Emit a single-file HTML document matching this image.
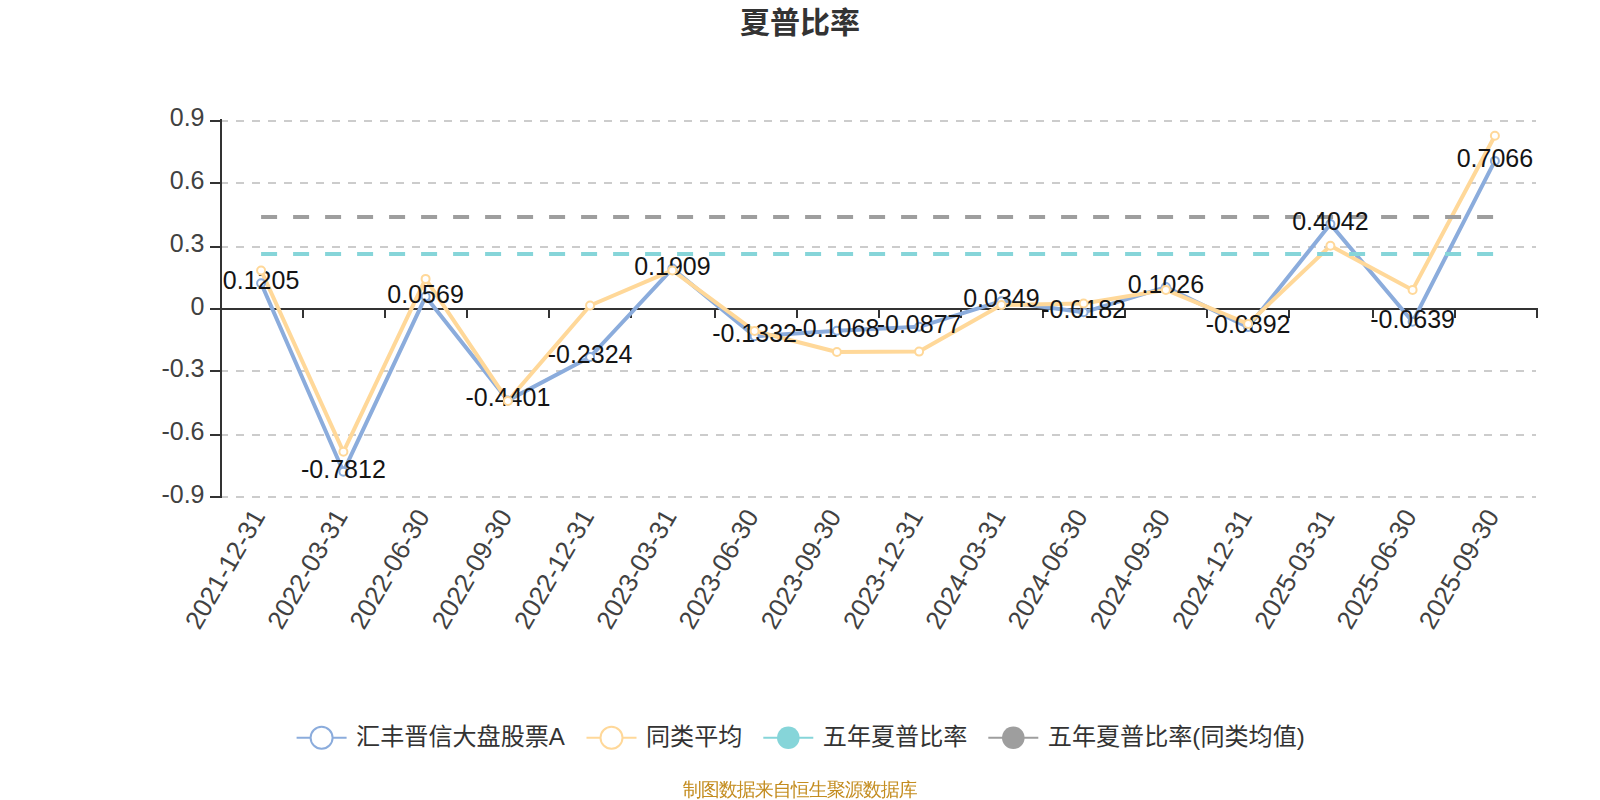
<!DOCTYPE html>
<html lang="zh-CN"><head><meta charset="utf-8"><title>夏普比率</title>
<style>html,body{margin:0;padding:0;background:#fff;}body{width:1600px;height:800px;overflow:hidden;}svg{display:block;}
.num{font-family:"Liberation Sans",sans-serif;}
.cjk{font-family:"Liberation Sans","Noto Sans CJK SC",sans-serif;}
.foot{font-family:"Liberation Sans","WenQuanYi Zen Hei",sans-serif;}</style></head><body>
<svg width="1600" height="800" viewBox="0 0 1600 800">
<rect width="1600" height="800" fill="#fff"/>
<text x="800" y="33" text-anchor="middle" class="cjk" font-size="30" font-weight="bold" fill="#333">夏普比率</text>
<g stroke="#ccc" stroke-width="2" stroke-dasharray="8 8">
<line x1="220.0" y1="121" x2="1536.0" y2="121"/>
<line x1="220.0" y1="183" x2="1536.0" y2="183"/>
<line x1="220.0" y1="247" x2="1536.0" y2="247"/>
<line x1="220.0" y1="371" x2="1536.0" y2="371"/>
<line x1="220.0" y1="435" x2="1536.0" y2="435"/>
<line x1="220.0" y1="497" x2="1536.0" y2="497"/>
</g>
<g stroke="#333" stroke-width="2">
<line x1="221" y1="119" x2="221" y2="498"/>
<line x1="210" y1="121" x2="220" y2="121"/>
<line x1="210" y1="183" x2="220" y2="183"/>
<line x1="210" y1="247" x2="220" y2="247"/>
<line x1="210" y1="309" x2="220" y2="309"/>
<line x1="210" y1="371" x2="220" y2="371"/>
<line x1="210" y1="435" x2="220" y2="435"/>
<line x1="210" y1="497" x2="220" y2="497"/>
<line x1="220" y1="309" x2="1538" y2="309"/>
<line x1="303" y1="308" x2="303" y2="318"/>
<line x1="385" y1="308" x2="385" y2="318"/>
<line x1="467" y1="308" x2="467" y2="318"/>
<line x1="549" y1="308" x2="549" y2="318"/>
<line x1="631" y1="308" x2="631" y2="318"/>
<line x1="715" y1="308" x2="715" y2="318"/>
<line x1="797" y1="308" x2="797" y2="318"/>
<line x1="879" y1="308" x2="879" y2="318"/>
<line x1="961" y1="308" x2="961" y2="318"/>
<line x1="1043" y1="308" x2="1043" y2="318"/>
<line x1="1125" y1="308" x2="1125" y2="318"/>
<line x1="1207" y1="308" x2="1207" y2="318"/>
<line x1="1289" y1="308" x2="1289" y2="318"/>
<line x1="1373" y1="308" x2="1373" y2="318"/>
<line x1="1455" y1="308" x2="1455" y2="318"/>
<line x1="1537" y1="308" x2="1537" y2="318"/>
</g>
<g class="num" font-size="25" fill="#414141" text-anchor="end">
<text x="204.5" y="125.8">0.9</text>
<text x="204.5" y="189.2">0.6</text>
<text x="204.5" y="251.9">0.3</text>
<text x="204.5" y="314.75">0</text>
<text x="204.5" y="377.4">-0.3</text>
<text x="204.5" y="440.1">-0.6</text>
<text x="204.5" y="502.8">-0.9</text>
</g>
<g class="num" font-size="26" fill="#414141" text-anchor="end">
<text transform="translate(258.0 511.2) rotate(-60)" x="0" y="9.3">2021-12-31</text>
<text transform="translate(340.3 511.2) rotate(-60)" x="0" y="9.3">2022-03-31</text>
<text transform="translate(422.5 511.2) rotate(-60)" x="0" y="9.3">2022-06-30</text>
<text transform="translate(504.8 511.2) rotate(-60)" x="0" y="9.3">2022-09-30</text>
<text transform="translate(587.0 511.2) rotate(-60)" x="0" y="9.3">2022-12-31</text>
<text transform="translate(669.3 511.2) rotate(-60)" x="0" y="9.3">2023-03-31</text>
<text transform="translate(751.5 511.2) rotate(-60)" x="0" y="9.3">2023-06-30</text>
<text transform="translate(833.8 511.2) rotate(-60)" x="0" y="9.3">2023-09-30</text>
<text transform="translate(916.0 511.2) rotate(-60)" x="0" y="9.3">2023-12-31</text>
<text transform="translate(998.3 511.2) rotate(-60)" x="0" y="9.3">2024-03-31</text>
<text transform="translate(1080.5 511.2) rotate(-60)" x="0" y="9.3">2024-06-30</text>
<text transform="translate(1162.8 511.2) rotate(-60)" x="0" y="9.3">2024-09-30</text>
<text transform="translate(1245.0 511.2) rotate(-60)" x="0" y="9.3">2024-12-31</text>
<text transform="translate(1327.3 511.2) rotate(-60)" x="0" y="9.3">2025-03-31</text>
<text transform="translate(1409.5 511.2) rotate(-60)" x="0" y="9.3">2025-06-30</text>
<text transform="translate(1491.8 511.2) rotate(-60)" x="0" y="9.3">2025-09-30</text>
</g>
<polyline points="261.1,283.3 343.4,471.7 425.6,296.6 507.9,400.4 590.1,357.0 672.4,268.6 754.6,336.3 836.9,330.8 919.1,326.8 1001.4,301.2 1083.6,312.3 1165.9,287.1 1248.1,327.1 1330.4,224.1 1412.6,321.8 1494.9,160.9" fill="none" stroke="#8bacdc" stroke-width="4" stroke-linejoin="bevel"/>
<polyline points="261.1,270.5 343.4,451.8 425.6,278.9 507.9,400.9 590.1,305.5 672.4,270.4 754.6,331.0 836.9,352.0 919.1,351.6 1001.4,305.1 1083.6,303.5 1165.9,289.9 1248.1,323.9 1330.4,245.8 1412.6,289.9 1494.9,135.7" fill="none" stroke="#ffd899" stroke-width="4" stroke-linejoin="bevel"/>
<line x1="261.1" y1="254" x2="1494.9" y2="254" stroke="#86d5d9" stroke-width="4" stroke-dasharray="16 16"/>
<line x1="261.1" y1="217" x2="1494.9" y2="217" stroke="#9e9e9e" stroke-width="4" stroke-dasharray="16 16"/>
<g class="num" font-size="25" text-anchor="middle">
<circle cx="261.1" cy="283.3" r="4" fill="#fff" stroke="#8bacdc" stroke-width="2"/><text x="261.1" y="289.3" fill="#141414">0.1205</text>
<circle cx="343.4" cy="471.7" r="4" fill="#fff" stroke="#8bacdc" stroke-width="2"/><text x="343.4" y="477.6" fill="#141414">-0.7812</text>
<circle cx="425.6" cy="296.6" r="4" fill="#fff" stroke="#8bacdc" stroke-width="2"/><text x="425.6" y="302.6" fill="#141414">0.0569</text>
<circle cx="507.9" cy="400.4" r="4" fill="#fff" stroke="#8bacdc" stroke-width="2"/><text x="507.9" y="406.4" fill="#141414">-0.4401</text>
<circle cx="590.1" cy="357.0" r="4" fill="#fff" stroke="#8bacdc" stroke-width="2"/><text x="590.1" y="363.0" fill="#141414">-0.2324</text>
<circle cx="672.4" cy="268.6" r="4" fill="#fff" stroke="#8bacdc" stroke-width="2"/><text x="672.4" y="274.6" fill="#141414">0.1909</text>
<circle cx="754.6" cy="336.3" r="4" fill="#fff" stroke="#8bacdc" stroke-width="2"/><text x="754.6" y="342.3" fill="#141414">-0.1332</text>
<circle cx="836.9" cy="330.8" r="4" fill="#fff" stroke="#8bacdc" stroke-width="2"/><text x="836.9" y="336.8" fill="#141414">-0.1068</text>
<circle cx="919.1" cy="326.8" r="4" fill="#fff" stroke="#8bacdc" stroke-width="2"/><text x="919.1" y="332.8" fill="#141414">-0.0877</text>
<circle cx="1001.4" cy="301.2" r="4" fill="#fff" stroke="#8bacdc" stroke-width="2"/><text x="1001.4" y="307.2" fill="#141414">0.0349</text>
<circle cx="1083.6" cy="312.3" r="4" fill="#fff" stroke="#8bacdc" stroke-width="2"/><text x="1083.6" y="318.3" fill="#141414">-0.0182</text>
<circle cx="1165.9" cy="287.1" r="4" fill="#fff" stroke="#8bacdc" stroke-width="2"/><text x="1165.9" y="293.0" fill="#141414">0.1026</text>
<circle cx="1248.1" cy="327.1" r="4" fill="#fff" stroke="#8bacdc" stroke-width="2"/><text x="1248.1" y="333.1" fill="#141414">-0.0892</text>
<circle cx="1330.4" cy="224.1" r="4" fill="#fff" stroke="#8bacdc" stroke-width="2"/><text x="1330.4" y="230.0" fill="#141414">0.4042</text>
<circle cx="1412.6" cy="321.8" r="4" fill="#fff" stroke="#8bacdc" stroke-width="2"/><text x="1412.6" y="327.8" fill="#141414">-0.0639</text>
<circle cx="1494.9" cy="160.9" r="4" fill="#fff" stroke="#8bacdc" stroke-width="2"/><text x="1494.9" y="166.8" fill="#141414">0.7066</text>
</g>
<g fill="#fff" stroke="#ffd899" stroke-width="2"><circle cx="261.1" cy="270.5" r="4"/><circle cx="343.4" cy="451.8" r="4"/><circle cx="425.6" cy="278.9" r="4"/><circle cx="507.9" cy="400.9" r="4"/><circle cx="590.1" cy="305.5" r="4"/><circle cx="672.4" cy="270.4" r="4"/><circle cx="754.6" cy="331.0" r="4"/><circle cx="836.9" cy="352.0" r="4"/><circle cx="919.1" cy="351.6" r="4"/><circle cx="1001.4" cy="305.1" r="4"/><circle cx="1083.6" cy="303.5" r="4"/><circle cx="1165.9" cy="289.9" r="4"/><circle cx="1248.1" cy="323.9" r="4"/><circle cx="1330.4" cy="245.8" r="4"/><circle cx="1412.6" cy="289.9" r="4"/><circle cx="1494.9" cy="135.7" r="4"/></g>
<line x1="296.6" y1="737.8" x2="346.6" y2="737.8" stroke="#8bacdc" stroke-width="2"/>
<circle cx="321.6" cy="737.8" r="11" fill="#fff" stroke="#8bacdc" stroke-width="2"/>
<text x="356.1" y="744.5" class="cjk" font-size="24.1" fill="#333">汇丰晋信大盘股票A</text>
<line x1="586.5" y1="737.8" x2="636.5" y2="737.8" stroke="#ffd899" stroke-width="2"/>
<circle cx="611.5" cy="737.8" r="11" fill="#fff" stroke="#ffd899" stroke-width="2"/>
<text x="646.0" y="744.5" class="cjk" font-size="24.1" fill="#333">同类平均</text>
<line x1="763.3" y1="737.8" x2="813.3" y2="737.8" stroke="#86d5d9" stroke-width="2"/>
<circle cx="788.3" cy="737.8" r="11.3" fill="#86d5d9"/>
<text x="822.8" y="744.5" class="cjk" font-size="24.1" fill="#333">五年夏普比率</text>
<line x1="988.3" y1="737.8" x2="1038.3" y2="737.8" stroke="#9e9e9e" stroke-width="2"/>
<circle cx="1013.3" cy="737.8" r="11.3" fill="#9e9e9e"/>
<text x="1047.8" y="744.5" class="cjk" font-size="24.1" fill="#333">五年夏普比率(同类均值)</text>
<text x="799.7" y="796.4" text-anchor="middle" class="foot" font-size="19" letter-spacing="-1" fill="#c48d20">制图数据来自恒生聚源数据库</text>
</svg></body></html>
